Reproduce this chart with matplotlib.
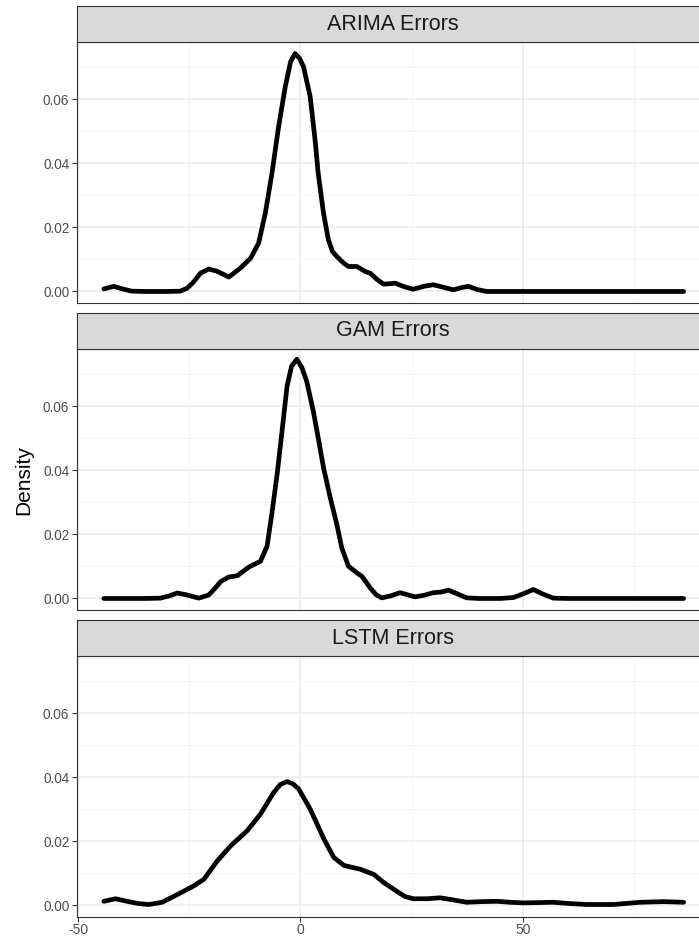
import numpy as np
import matplotlib
matplotlib.use('Agg')
import matplotlib.pyplot as plt
from matplotlib.ticker import MultipleLocator, FormatStrFormatter

plt.rcParams['font.family'] = ['Liberation Sans', 'DejaVu Sans']

# values
titles = ['ARIMA Errors', 'GAM Errors', 'LSTM Errors']

arima_x = [-44.2, -42.0, -40.0, -38.0, -35.0, -30.0, -27.0, -25.5, -24.0, -22.5,
           -20.6, -18.7, -16.1, -13.5, -11.2, -9.4, -7.9, -6.4, -4.9, -3.4,
           -2.2, -1.2, -0.2, 0.7, 2.2, 3.3, 4.0, 5.2, 6.3, 7.2,
           8.2, 9.7, 10.8, 12.7, 14.6, 15.7, 17.2, 18.7, 20.0, 21.3,
           23.3, 25.4, 27.7, 29.9, 32.2, 34.4, 36.2, 37.8, 39.8, 41.9,
           50.0, 60.0, 70.0, 86.2]
arima_y = [0.0008, 0.0016, 0.0008, 0.0001, 0.0, 0.0, 0.0001, 0.0010, 0.0030, 0.0057,
           0.0070, 0.0063, 0.0045, 0.0073, 0.0104, 0.0151, 0.0244, 0.0369, 0.0515, 0.0640,
           0.0718, 0.0743, 0.0728, 0.0702, 0.0608, 0.0473, 0.0369, 0.0244, 0.0161, 0.0125,
           0.0109, 0.0089, 0.0078, 0.0078, 0.0062, 0.0057, 0.0038, 0.0023, 0.0024, 0.0026,
           0.0015, 0.0007, 0.0016, 0.0021, 0.0013, 0.0005, 0.0012, 0.0016, 0.0006, 0.0,
           0.0, 0.0, 0.0, 0.0]

gam_x = [-44.2, -35.0, -31.5, -29.5, -27.7, -25.5, -22.9, -20.6, -19.2, -17.9,
         -16.1, -14.2, -11.6, -9.0, -7.5, -6.4, -5.2, -4.1, -3.0, -2.0,
         -0.8, 0.3, 1.4, 2.9, 4.0, 5.2, 6.7, 8.2, 9.3, 10.8,
         12.7, 13.9, 15.7, 17.0, 18.3, 20.3, 22.4, 24.0, 25.8, 27.8,
         29.9, 31.6, 33.3, 35.2, 37.4, 40.0, 45.0, 47.9, 50.2, 52.4,
         54.5, 56.9, 60.0, 70.0, 86.2]
gam_y = [0.0, 0.0, 0.0001, 0.0008, 0.0017, 0.0011, 0.0001, 0.0011, 0.0032, 0.0053,
         0.0067, 0.0071, 0.0098, 0.0116, 0.0163, 0.0267, 0.0392, 0.0527, 0.0663, 0.0725,
         0.0747, 0.0722, 0.0679, 0.0585, 0.0502, 0.0408, 0.0315, 0.0231, 0.0158, 0.0101,
         0.0080, 0.0068, 0.0033, 0.0012, 0.0002, 0.0008, 0.0018, 0.0012, 0.0005, 0.0010,
         0.0018, 0.0020, 0.0026, 0.0015, 0.0002, 0.0, 0.0, 0.0003, 0.0015, 0.0028,
         0.0014, 0.0001, 0.0, 0.0, 0.0]

lstm_x = [-44.2, -41.6, -39.0, -36.5, -34.1, -31.1, -27.7, -24.0, -21.7, -18.7,
          -15.7, -12.0, -9.0, -6.0, -4.5, -3.0, -1.7, -0.4, 2.2, 5.3,
          7.5, 9.8, 13.5, 16.5, 18.8, 21.6, 23.5, 25.4, 28.5, 31.4,
          34.5, 37.4, 40.8, 44.2, 47.2, 50.2, 53.5, 56.9, 60.5, 64.4,
          70.4, 76.4, 81.7, 86.2]
lstm_y = [0.0013, 0.0021, 0.0013, 0.0006, 0.0003, 0.0010, 0.0034, 0.0061, 0.0082, 0.0139,
          0.0186, 0.0233, 0.0285, 0.0353, 0.0378, 0.0387, 0.0380, 0.0364, 0.0301, 0.0207,
          0.0150, 0.0125, 0.0113, 0.0097, 0.0071, 0.0045, 0.0028, 0.0021, 0.0021, 0.0024,
          0.0017, 0.0010, 0.0012, 0.0013, 0.0010, 0.0008, 0.0009, 0.0010, 0.0006, 0.0003,
          0.0003, 0.0010, 0.0012, 0.0010]

series = [(arima_x, arima_y), (gam_x, gam_y), (lstm_x, lstm_y)]

W, H = 699, 940
fig = plt.figure(figsize=(W / 100, H / 100), dpi=100)

left, right = 77, 705
for k, (title, (xs, ys)) in enumerate(zip(titles, series)):
    top = 42 + 307 * k
    bot = 303 + 307 * k
    ax = fig.add_axes([left / W, 1 - bot / H, (right - left) / W, (bot - top) / H])
    ax.plot(xs, ys, color='black', lw=3.4, solid_capstyle='round', solid_joinstyle='round')
    ax.set_xlim(-50.25, 91.0)
    ax.set_ylim(-0.0036, 0.0779)
    ax.xaxis.set_major_locator(MultipleLocator(50))
    ax.xaxis.set_minor_locator(MultipleLocator(25))
    ax.yaxis.set_major_locator(MultipleLocator(0.02))
    ax.yaxis.set_minor_locator(MultipleLocator(0.01))
    ax.grid(which='major', color='#EBEBEB', lw=1.1)
    ax.grid(which='minor', color='#F2F2F2', lw=0.6)
    ax.set_axisbelow(True)
    for sp in ax.spines.values():
        sp.set_color('#333333')
        sp.set_linewidth(0.8)
    ax.tick_params(which='minor', length=0)
    ax.tick_params(which='major', length=3.5, width=0.8, color='#333333',
                   labelcolor='#4D4D4D', labelsize=9.8, pad=2)
    ax.yaxis.set_major_formatter(FormatStrFormatter('%.2f'))
    if k < 2:
        ax.tick_params(axis='x', which='both', bottom=False, labelbottom=False)
    else:
        ax.xaxis.set_major_formatter(FormatStrFormatter('%d'))
        ax.tick_params(axis='x', labelsize=10, pad=1)

    # facet strip
    st_top = 6 + 307 * k
    sax = fig.add_axes([left / W, 1 - top / H, (right - left) / W, (top - st_top) / H])
    sax.set_facecolor('#D9D9D9')
    sax.set_xticks([])
    sax.set_yticks([])
    for sp in sax.spines.values():
        sp.set_color('#333333')
        sp.set_linewidth(0.8)
    fig.text((323 + 463) / 2 / W, 1 - (top + st_top) / 2 / H, title,
             ha='center', va='center', fontsize=15.5, color='#1A1A1A')

fig.text(24 / W, 1 - 480 / H, 'Density', rotation=90, ha='center', va='center',
         fontsize=15, color='black')

fig.savefig('out.png', dpi=100)
